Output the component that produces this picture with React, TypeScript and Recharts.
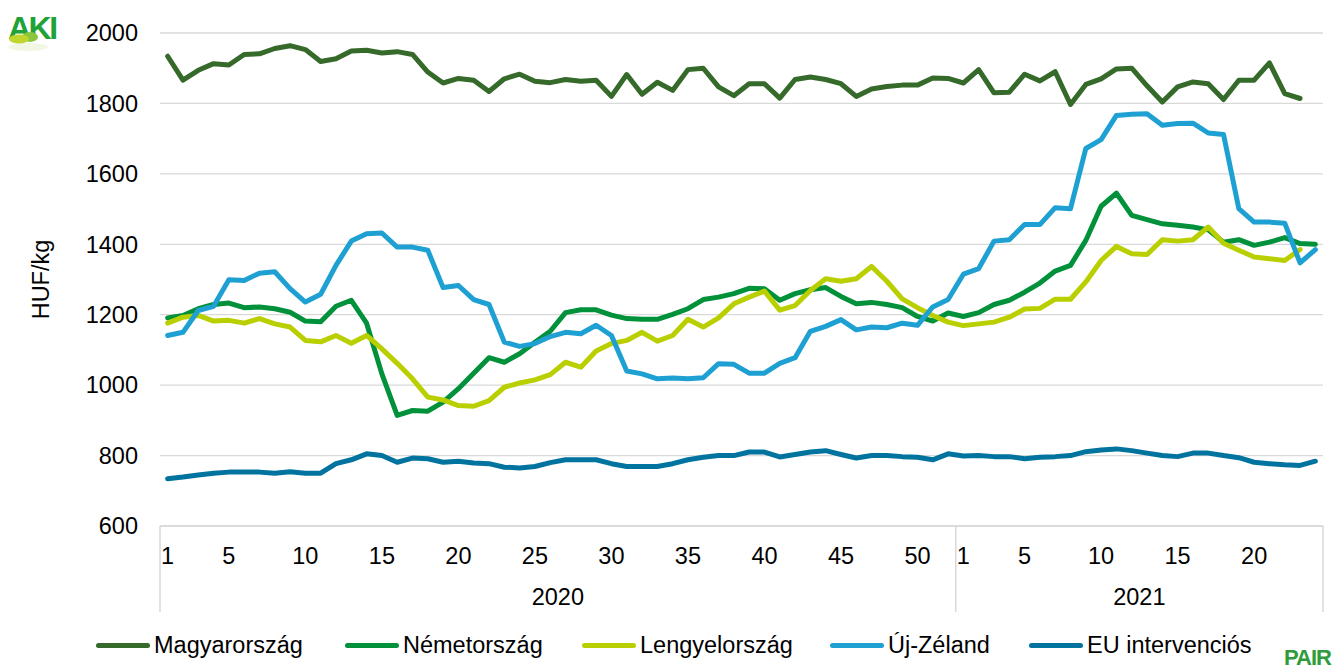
import React from "react"
import { CartesianGrid, Line, LineChart, XAxis, YAxis } from "recharts"

// weekly wholesale price, HUF/kg, 2020 week 1 – 2021 week 24
const weeks2020 = [
  1, 2, 3, 4, 5, 6, 7, 8, 9, 10, 11, 12, 13, 14, 15, 16, 17, 18, 19, 20, 21, 22, 23, 24, 25, 26,
  27, 28, 29, 30, 31, 32, 33, 34, 35, 36, 37, 38, 39, 40, 41, 42, 43, 44, 45, 46, 47, 48, 49, 50,
  51, 52,
]
const weeks2021 = [
  1, 2, 3, 4, 5, 6, 7, 8, 9, 10, 11, 12, 13, 14, 15, 16, 17, 18, 19, 20, 21, 22, 23, 24,
]
const labeledWeeks2020 = [1, 5, 10, 15, 20, 25, 30, 35, 40, 45, 50]
const labeledWeeks2021 = [1, 5, 10, 15, 20]
const yearLabels = ["2020", "2021"]
const yTicks = [600, 800, 1000, 1200, 1400, 1600, 1800, 2000]

const magyarorszag = [
  1934, 1866, 1894, 1913, 1909, 1939, 1941, 1956, 1964, 1953,
  1919, 1927, 1949, 1951, 1943, 1947, 1939, 1889, 1858, 1871,
  1866, 1834, 1870, 1883, 1863, 1859, 1868, 1863, 1866, 1820,
  1882, 1826, 1860, 1837, 1896, 1900, 1847, 1822, 1856, 1856,
  1815, 1868, 1875, 1868, 1856, 1820, 1841, 1848, 1852, 1852,
  1872, 1871, 1858, 1896, 1830, 1832, 1883, 1864, 1890, 1797,
  1854, 1870, 1898, 1900, 1850, 1804, 1847, 1861, 1856, 1811,
  1866, 1866, 1915, 1828, 1814, null,
]
const nemetorszag = [
  1191, 1198, 1217, 1229, 1233, 1220, 1222, 1217, 1207, 1182,
  1180, 1224, 1241, 1176, 1032, 914, 928, 926, 952, 990,
  1034, 1078, 1065, 1089, 1122, 1153, 1206, 1214, 1214, 1199,
  1189, 1187, 1187, 1201, 1217, 1243, 1250, 1260, 1275, 1274,
  1241, 1260, 1271, 1277, 1252, 1231, 1235, 1229, 1220, 1195,
  1182, 1205, 1195, 1206, 1229, 1241, 1264, 1290, 1324, 1340,
  1411, 1508, 1545, 1482, 1470, 1458, 1454, 1449, 1441, 1406,
  1413, 1397, 1406, 1419, 1402, 1400,
]
const lengyelorszag = [
  1176, 1193, 1198, 1182, 1184, 1176, 1189, 1174, 1165, 1127,
  1123, 1141, 1119, 1141, 1103, 1062, 1018, 966, 958, 942,
  940, 956, 994, 1006, 1015, 1030, 1065, 1051, 1097, 1118,
  1127, 1150, 1125, 1141, 1187, 1165, 1191, 1231, 1250, 1267,
  1213, 1226, 1269, 1302, 1295, 1302, 1337, 1295, 1245, 1220,
  1198, 1179, 1169, 1174, 1179, 1193, 1216, 1218, 1244, 1244,
  1293, 1354, 1394, 1373, 1371, 1413, 1409, 1413, 1449, 1403,
  1383, 1364, 1359, 1354, 1385, null,
]
const ujZeland = [
  1141, 1150, 1212, 1224, 1299, 1297, 1318, 1322, 1274, 1236,
  1258, 1340, 1409, 1430, 1432, 1392, 1392, 1383, 1277, 1283,
  1243, 1229, 1122, 1110, 1118, 1138, 1150, 1146, 1170, 1141,
  1040, 1032, 1018, 1020, 1018, 1021, 1061, 1059, 1034, 1034,
  1062, 1078, 1153, 1167, 1186, 1157, 1165, 1163, 1176, 1170,
  1222, 1243, 1315, 1331, 1409, 1413, 1456, 1456, 1504, 1501,
  1672, 1697, 1766, 1769, 1771, 1738, 1743, 1744, 1716, 1712,
  1501, 1463, 1463, 1460, 1347, 1385,
]
const euIntervencios = [
  734, 739, 745, 750, 753, 753, 753, 750, 754, 750,
  750, 777, 788, 805, 800, 781, 793, 791, 781, 784,
  779, 777, 767, 765, 769, 780, 788, 788, 788, 777,
  769, 769, 769, 777, 788, 795, 800, 800, 810, 810,
  796, 803, 810, 814, 803, 793, 800, 800, 797, 795,
  788, 805, 799, 800, 797, 797, 791, 795, 797, 800,
  811, 816, 819, 814, 807, 800, 797, 807, 807, 800,
  794, 781, 777, 774, 772, 784,
]

const SERIES = [
  { key: "hu", name: "Magyarország", color: "#356A2B", values: magyarorszag },
  { key: "de", name: "Németország", color: "#00913A", values: nemetorszag },
  { key: "pl", name: "Lengyelország", color: "#B9CF00", values: lengyelorszag },
  { key: "nz", name: "Új-Zéland", color: "#1FA0D2", values: ujZeland },
  { key: "eu", name: "EU intervenciós", color: "#00749E", values: euIntervencios },
]

const FONT = "'Liberation Sans', Arial, sans-serif"
const FONT_SIZE = 23.5
const GRID = "#D9D9D9"
const WEEK_AXIS_H = 40
const YEAR_AXIS_H = 46

const weeks = [...weeks2020, ...weeks2021]
const data = weeks.map((week, i) => {
  const row: Record<string, number | null> = { idx: i, week }
  SERIES.forEach((s) => {
    row[s.key] = s.values[i]
  })
  return row
})

const weekTicks = [
  ...labeledWeeks2020.map((w) => weeks2020.indexOf(w)),
  ...labeledWeeks2021.map((w) => weeks2020.length + weeks2021.indexOf(w)),
]

// year boundaries sit between categories, labels sit in the middle of each year
const b0 = -0.5
const b1 = weeks2020.length - 0.5
const b2 = weeks.length - 0.5
const yearMids = [
  { pos: (b0 + b1) / 2, label: yearLabels[0] },
  { pos: (b1 + b2) / 2, label: yearLabels[1] },
]
const yearTicks = [b0, yearMids[0].pos, b1, yearMids[1].pos, b2]

const YearTick = (props: any) => {
  const { x, y, payload } = props
  const mid = yearMids.find((m) => m.pos === payload.value)
  if (mid) {
    return (
      <text x={x} y={y + 39} textAnchor="middle" fontSize={FONT_SIZE} fontFamily={FONT} fill="#000">
        {mid.label}
      </text>
    )
  }
  return <line x1={x} x2={x} y1={y - WEEK_AXIS_H} y2={y + YEAR_AXIS_H} stroke={GRID} strokeWidth={1.5} />
}

const YLabel = (props: any) => {
  const vb = props.viewBox || { y: 33, height: 493 }
  const cy = vb.y + vb.height / 2
  const x = 49
  return (
    <text
      x={x}
      y={cy}
      transform={`rotate(-90, ${x}, ${cy})`}
      textAnchor="middle"
      fontSize={FONT_SIZE}
      fontFamily={FONT}
      fill="#000"
    >
      HUF/kg
    </text>
  )
}

const AkiLogo = () => (
  <svg width={70} height={55} style={{ position: "absolute", left: 0, top: 0 }}>
    <ellipse cx={28} cy={47} rx={20} ry={4} fill="#EEF5DD" opacity={0.8} />
    <text x={8} y={39} fontSize={32} fontWeight="bold" fontFamily={FONT} fill="#1FA338" letterSpacing={-2.5}>
      AKI
    </text>
    <ellipse cx={30} cy={37} rx={8} ry={5} fill="#8CC63F" />
    <ellipse cx={19} cy={39} rx={10} ry={4.5} fill="#C0D62E" />
  </svg>
)

const legendLeft = [96, 345, 582, 830, 1029]

export default function App() {
  return (
    <div
      style={{
        position: "absolute",
        left: 0,
        top: 0,
        width: 1338,
        height: 672,
        background: "#fff",
        fontFamily: FONT,
        overflow: "hidden",
      }}
    >
      <LineChart width={1338} height={672} data={data} margin={{ top: 33, right: 15, left: 0, bottom: 60 }}>
        <CartesianGrid horizontal vertical={false} stroke={GRID} strokeWidth={1.3} xAxisId="wk" />
        <XAxis
          xAxisId="wk"
          dataKey="idx"
          type="number"
          domain={[b0, b2]}
          ticks={weekTicks}
          interval={0}
          tickFormatter={(v: number) => String(weeks[v])}
          tickLine={false}
          tickSize={0}
          tickMargin={21}
          axisLine={{ stroke: GRID, strokeWidth: 1.5 }}
          height={WEEK_AXIS_H}
          tick={{ fontSize: FONT_SIZE, fill: "#000", fontFamily: FONT }}
        />
        <XAxis
          xAxisId="yr"
          dataKey="idx"
          type="number"
          domain={[b0, b2]}
          ticks={yearTicks}
          interval={0}
          tickLine={false}
          tickSize={0}
          tickMargin={0}
          axisLine={false}
          height={YEAR_AXIS_H}
          tick={<YearTick />}
        />
        <YAxis
          domain={[600, 2000]}
          ticks={yTicks}
          interval={0}
          width={160}
          axisLine={false}
          tickLine={false}
          tickSize={0}
          tickMargin={22}
          tick={{ fontSize: FONT_SIZE, fill: "#000", fontFamily: FONT }}
          label={<YLabel />}
        />
        {SERIES.map((s) => (
          <Line
            key={s.key}
            xAxisId="wk"
            type="linear"
            dataKey={s.key}
            name={s.name}
            stroke={s.color}
            strokeWidth={5}
            strokeLinejoin="round"
            strokeLinecap="round"
            dot={false}
            activeDot={false}
            isAnimationActive={false}
          />
        ))}
      </LineChart>

      {SERIES.map((s, i) => (
        <div
          key={s.key}
          style={{
            position: "absolute",
            left: legendLeft[i],
            top: 631,
            height: 28,
            display: "flex",
            alignItems: "center",
            fontSize: FONT_SIZE,
            color: "#000",
            whiteSpace: "nowrap",
          }}
        >
          <span
            style={{
              display: "inline-block",
              width: 54,
              height: 5,
              borderRadius: 3,
              background: s.color,
              marginRight: 4,
            }}
          />
          {s.name}
        </div>
      ))}

      <AkiLogo />
      <div
        style={{
          position: "absolute",
          left: 1284,
          top: 646,
          fontSize: 22,
          fontWeight: "bold",
          color: "#2F9B3B",
          fontFamily: "'Liberation Sans Narrow', " + FONT,
          letterSpacing: -1,
          lineHeight: "24px",
        }}
      >
        PAIR
      </div>
    </div>
  )
}
